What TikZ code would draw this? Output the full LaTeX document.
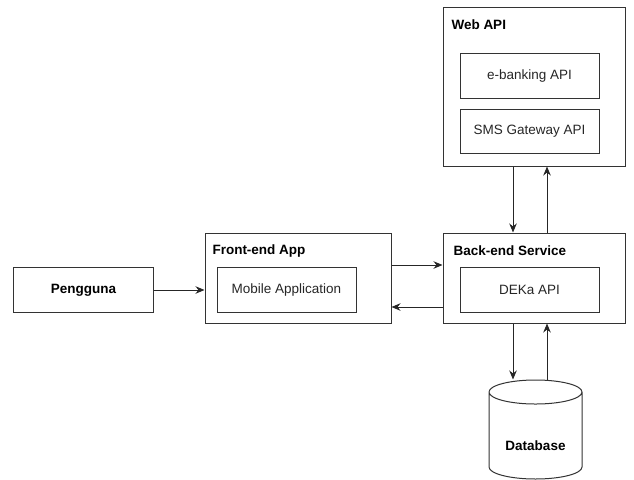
\documentclass[tikz,border=0pt]{standalone}
\usepackage{fontspec}
\setmainfont{Liberation Sans}
\usetikzlibrary{shapes.geometric,arrows.meta}

\begin{document}
\begin{tikzpicture}
  [x=1pt,y=-1pt,line width=1pt,
   every node/.style={draw=black!80,font=\fontsize{13.5}{16}\selectfont,text=black!85,inner sep=0pt},
   box/.style={minimum width=139pt,minimum height=45pt},
   group/.style={minimum width=182pt},
   title/.style={draw=none,anchor=west,font=\fontsize{13.5}{16}\selectfont\bfseries,text=black},
   arr/.style={draw=black!85,-{Stealth[length=9pt,width=7.5pt]}}]

  \useasboundingbox (0,0) rectangle (634,479);

  \node[box,minimum width=140pt,font=\fontsize{13.5}{16}\selectfont\bfseries,text=black] (pengguna) at (83.5,290) {Pengguna};

  \node[group,minimum width=186pt,minimum height=90pt] (front) at (298,278) {};
  \node[title] (fronttitle) at (212,251) {Front-end App};
  \node[box] (mobile) at (286.5,290) {Mobile Application};

  \node[group,minimum height=90pt] (back) at (534,278) {};
  \node[title] (backtitle) at (453,251) {Back-end Service};
  \node[box] (deka) at (529.5,290) {DEKa API};

  \node[group,minimum height=159pt] (web) at (534,86.5) {};
  \node[title] (webtitle) at (451,25) {Web API};
  \node[box] (ebank) at (529.5,76) {e-banking API};
  \node[box,minimum height=44pt] (sms) at (529.5,131.5) {SMS Gateway API};

  \node[cylinder,shape border rotate=90,aspect=0.4,minimum width=93pt,minimum height=99pt,
        anchor=shape center,text height=30pt,
        font=\fontsize{13.5}{16}\selectfont\bfseries,text=black] (db) at (535.5,429.5) {Database};

  \draw[arr] (pengguna.east) -- (pengguna.east -| front.west);
  \draw[arr] ([yshift=13pt]front.east) -- ([yshift=13pt]front.east -| back.west);
  \draw[arr] ([yshift=-29pt]back.west) -- ([yshift=-29pt]back.west -| front.east);

\foreach \from/\to in {web/back,back/db}
    \draw[arr] ([xshift=-21pt]\from.south) -- ([xshift=-21pt]\from.south |- \to.north);
\foreach \from/\to in {back/web,db/back}
    \draw[arr] ([xshift=13pt]\to.south |- \from.north) -- ([xshift=13pt]\to.south);

\end{tikzpicture}
\end{document}
